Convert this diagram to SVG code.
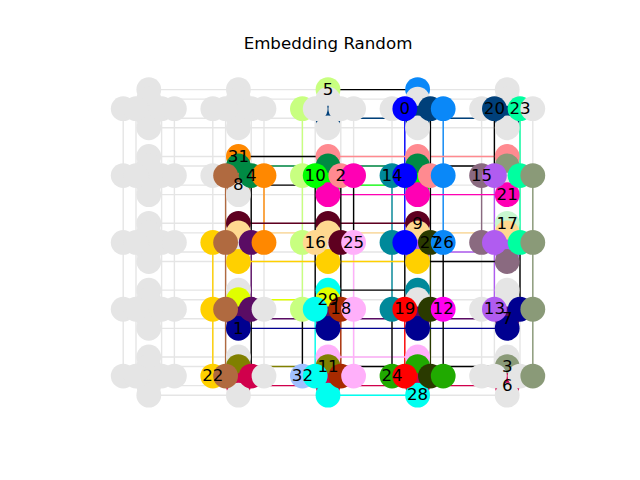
<svg xmlns="http://www.w3.org/2000/svg" width="640" height="480" viewBox="0 0 640 480">
<style>
text{font-family:"DejaVu Sans","Liberation Sans",sans-serif;fill:#000;font-size:16.67px;text-anchor:middle}
line{stroke-width:1.4;fill:none}
circle{stroke-width:0}
.e{stroke:#e5e5e5}
.k{stroke:#000}
.g{fill:#e5e5e5}
.LG{fill:#c8ff80;stroke:#c8ff80}
.OR{fill:#ff8800;stroke:#ff8800}
.GR{fill:#008a44;stroke:#008a44}
.BR{fill:#b06a40;stroke:#b06a40}
.BG{fill:#00ff00;stroke:#00ff00}
.SA{fill:#ff8a90;stroke:#ff8a90}
.MG{fill:#ff00b4;stroke:#ff00b4}
.TE{fill:#00899a;stroke:#00899a}
.BL{fill:#0000ff;stroke:#0000ff}
.DB{fill:#0a88f8;stroke:#0a88f8}
.NV{fill:#00407a;stroke:#00407a}
.SG{fill:#00ffa0;stroke:#00ffa0}
.VI{fill:#b05cf0;stroke:#b05cf0}
.MV{fill:#8a6a80;stroke:#8a6a80}
.SE{fill:#8a9a78;stroke:#8a9a78}
.PM{fill:#c8f8d0;stroke:#c8f8d0}
.LO{fill:#ffd890;stroke:#ffd890}
.MR{fill:#5e0020;stroke:#5e0020}
.YE{fill:#ffd000;stroke:#ffd000}
.PU{fill:#5a0c64;stroke:#5a0c64}
.LP{fill:#ffb0fa;stroke:#ffb0fa}
.DO{fill:#2a3a00;stroke:#2a3a00}
.CH{fill:#e0ff00;stroke:#e0ff00}
.N1{fill:#000090;stroke:#000090}
.CY{fill:#00fff0;stroke:#00fff0}
.RU{fill:#a82a00;stroke:#a82a00}
.RD{fill:#ff0000;stroke:#ff0000}
.M2{fill:#ff00f0;stroke:#ff00f0}
.OL{fill:#808000;stroke:#808000}
.CR{fill:#d0004c;stroke:#d0004c}
.LB{fill:#a0c0ff;stroke:#a0c0ff}
.G2{fill:#20aa00;stroke:#20aa00}
</style>
<rect width="640" height="480" fill="#ffffff"/>
<text x="328" y="49.3">Embedding Random</text>
<g id="connectors">
<g id="unused-edges">
<line class="e" x1="123.2" y1="108.7" x2="123.2" y2="376.1"/>
<line class="e" x1="136" y1="108.7" x2="136" y2="376.1"/>
<line class="e" x1="161.6" y1="108.7" x2="161.6" y2="376.1"/>
<line class="e" x1="174.4" y1="108.7" x2="174.4" y2="376.1"/>
<line class="e" x1="212.8" y1="108.7" x2="212.8" y2="376.1"/>
<line class="e" x1="225.6" y1="108.7" x2="225.6" y2="376.1"/>
<line class="e" x1="251.2" y1="108.7" x2="251.2" y2="376.1"/>
<line class="e" x1="264" y1="108.7" x2="264" y2="376.1"/>
<line class="e" x1="302.4" y1="108.7" x2="302.4" y2="376.1"/>
<line class="e" x1="315.2" y1="108.7" x2="315.2" y2="376.1"/>
<line class="e" x1="340.8" y1="108.7" x2="340.8" y2="376.1"/>
<line class="e" x1="353.6" y1="108.7" x2="353.6" y2="376.1"/>
<line class="e" x1="392" y1="108.7" x2="392" y2="376.1"/>
<line class="e" x1="404.8" y1="108.7" x2="404.8" y2="376.1"/>
<line class="e" x1="430.4" y1="108.7" x2="430.4" y2="376.1"/>
<line class="e" x1="443.2" y1="108.7" x2="443.2" y2="376.1"/>
<line class="e" x1="481.6" y1="108.7" x2="481.6" y2="376.1"/>
<line class="e" x1="494.4" y1="108.7" x2="494.4" y2="376.1"/>
<line class="e" x1="520" y1="108.7" x2="520" y2="376.1"/>
<line class="e" x1="532.8" y1="108.7" x2="532.8" y2="376.1"/>
<line class="e" x1="148.8" y1="89.6" x2="507.2" y2="89.6"/>
<line class="e" x1="148.8" y1="99.15" x2="507.2" y2="99.15"/>
<line class="e" x1="148.8" y1="118.25" x2="507.2" y2="118.25"/>
<line class="e" x1="148.8" y1="127.8" x2="507.2" y2="127.8"/>
<line class="e" x1="148.8" y1="156.45" x2="507.2" y2="156.45"/>
<line class="e" x1="148.8" y1="166" x2="507.2" y2="166"/>
<line class="e" x1="148.8" y1="185.1" x2="507.2" y2="185.1"/>
<line class="e" x1="148.8" y1="194.65" x2="507.2" y2="194.65"/>
<line class="e" x1="148.8" y1="223.3" x2="507.2" y2="223.3"/>
<line class="e" x1="148.8" y1="232.85" x2="507.2" y2="232.85"/>
<line class="e" x1="148.8" y1="251.95" x2="507.2" y2="251.95"/>
<line class="e" x1="148.8" y1="261.5" x2="507.2" y2="261.5"/>
<line class="e" x1="148.8" y1="290.15" x2="507.2" y2="290.15"/>
<line class="e" x1="148.8" y1="299.7" x2="507.2" y2="299.7"/>
<line class="e" x1="148.8" y1="318.8" x2="507.2" y2="318.8"/>
<line class="e" x1="148.8" y1="328.35" x2="507.2" y2="328.35"/>
<line class="e" x1="148.8" y1="357" x2="507.2" y2="357"/>
<line class="e" x1="148.8" y1="366.55" x2="507.2" y2="366.55"/>
<line class="e" x1="148.8" y1="385.65" x2="507.2" y2="385.65"/>
<line class="e" x1="148.8" y1="395.2" x2="507.2" y2="395.2"/>
</g>
<g id="chain-edges">
<line class="YE" x1="212.8" y1="242.4" x2="212.8" y2="376.1"/>
<line class="BR" x1="225.6" y1="175.55" x2="225.6" y2="376.1"/>
<line class="PU" x1="251.2" y1="242.4" x2="251.2" y2="309.25"/>
<line class="OR" x1="264" y1="175.55" x2="264" y2="242.4"/>
<line class="LG" x1="302.4" y1="108.7" x2="302.4" y2="309.25"/>
<line class="CY" x1="315.2" y1="309.25" x2="315.2" y2="376.1"/>
<line class="RU" x1="340.8" y1="309.25" x2="340.8" y2="376.1"/>
<line class="LP" x1="353.6" y1="242.4" x2="353.6" y2="376.1"/>
<line class="TE" x1="392" y1="175.55" x2="392" y2="309.25"/>
<line class="BL" x1="404.8" y1="108.7" x2="404.8" y2="242.4"/>
<line class="RD" x1="404.8" y1="309.25" x2="404.8" y2="376.1"/>
<line class="DO" x1="430.4" y1="242.4" x2="430.4" y2="376.1"/>
<line class="DB" x1="443.2" y1="108.7" x2="443.2" y2="242.4"/>
<line class="MV" x1="481.6" y1="175.55" x2="481.6" y2="242.4"/>
<line class="VI" x1="494.4" y1="175.55" x2="494.4" y2="309.25"/>
<line class="SG" x1="520" y1="108.7" x2="520" y2="242.4"/>
<line class="SE" x1="532.8" y1="175.55" x2="532.8" y2="376.1"/>
<line class="NV" x1="328" y1="118.25" x2="507.2" y2="118.25"/>
<line class="SA" x1="328" y1="156.45" x2="507.2" y2="156.45"/>
<line class="GR" x1="238.4" y1="166" x2="417.6" y2="166"/>
<line class="BG" x1="328" y1="185.1" x2="417.6" y2="185.1"/>
<line class="MG" x1="328" y1="194.65" x2="507.2" y2="194.65"/>
<line class="MR" x1="238.4" y1="223.3" x2="417.6" y2="223.3"/>
<line class="LO" x1="238.4" y1="232.85" x2="507.2" y2="232.85"/>
<line class="VI" x1="417.6" y1="251.95" x2="507.2" y2="251.95"/>
<line class="YE" x1="238.4" y1="261.5" x2="417.6" y2="261.5"/>
<line class="CH" x1="238.4" y1="299.7" x2="328" y2="299.7"/>
<line class="PU" x1="238.4" y1="318.8" x2="507.2" y2="318.8"/>
<line class="N1" x1="238.4" y1="328.35" x2="507.2" y2="328.35"/>
<line class="LP" x1="328" y1="357" x2="417.6" y2="357"/>
<line class="OL" x1="238.4" y1="366.55" x2="328" y2="366.55"/>
<line class="CR" x1="238.4" y1="385.65" x2="507.2" y2="385.65"/>
<line class="CY" x1="328" y1="395.2" x2="417.6" y2="395.2"/>
</g>
<g id="interaction-edges">
<line class="k" x1="251.2" y1="175.55" x2="251.2" y2="242.4"/>
<line class="k" x1="251.2" y1="309.25" x2="251.2" y2="376.1"/>
<line class="k" x1="302.4" y1="309.25" x2="302.4" y2="376.1"/>
<line class="k" x1="315.2" y1="175.55" x2="315.2" y2="309.25"/>
<line class="k" x1="340.8" y1="175.55" x2="340.8" y2="309.25"/>
<line class="k" x1="353.6" y1="175.55" x2="353.6" y2="242.4"/>
<line class="k" x1="392" y1="309.25" x2="392" y2="376.1"/>
<line class="k" x1="404.8" y1="242.4" x2="404.8" y2="309.25"/>
<line class="k" x1="430.4" y1="108.7" x2="430.4" y2="242.4"/>
<line class="k" x1="443.2" y1="242.4" x2="443.2" y2="376.1"/>
<line class="k" x1="494.4" y1="108.7" x2="494.4" y2="175.55"/>
<line class="k" x1="520" y1="242.4" x2="520" y2="309.25"/>
<line class="k" x1="328" y1="89.6" x2="417.6" y2="89.6"/>
<line class="k" x1="238.4" y1="156.45" x2="328" y2="156.45"/>
<line class="k" x1="417.6" y1="166" x2="507.2" y2="166"/>
<line class="k" x1="238.4" y1="185.1" x2="328" y2="185.1"/>
<line class="k" x1="417.6" y1="261.5" x2="507.2" y2="261.5"/>
<line class="k" x1="328" y1="290.15" x2="417.6" y2="290.15"/>
<line class="k" x1="328" y1="366.55" x2="507.2" y2="366.55"/>
</g>
</g>
<g id="nodes">
<g id="cell-0-0"><circle class="g" cx="123.2" cy="108.7" r="12.4"/><circle class="g" cx="148.8" cy="89.6" r="12.4"/><circle class="g" cx="148.8" cy="99.15" r="12.4"/><circle class="g" cx="148.8" cy="118.25" r="12.4"/><circle class="g" cx="148.8" cy="127.8" r="12.4"/><circle class="g" cx="136" cy="108.7" r="12.4"/><circle class="g" cx="161.6" cy="108.7" r="12.4"/><circle class="g" cx="174.4" cy="108.7" r="12.4"/></g>
<g id="cell-1-0"><circle class="g" cx="212.8" cy="108.7" r="12.4"/><circle class="g" cx="238.4" cy="89.6" r="12.4"/><circle class="g" cx="238.4" cy="99.15" r="12.4"/><circle class="g" cx="238.4" cy="118.25" r="12.4"/><circle class="g" cx="238.4" cy="127.8" r="12.4"/><circle class="g" cx="225.6" cy="108.7" r="12.4"/><circle class="g" cx="251.2" cy="108.7" r="12.4"/><circle class="g" cx="264" cy="108.7" r="12.4"/></g>
<g id="cell-2-0"><circle class="LG" cx="302.4" cy="108.7" r="12.4"/><circle class="LG" cx="328" cy="89.6" r="12.4"/><circle class="g" cx="328" cy="99.15" r="12.4"/><circle class="NV" cx="328" cy="118.25" r="12.4"/><circle class="g" cx="328" cy="127.8" r="12.4"/><circle class="g" cx="315.2" cy="108.7" r="12.4"/><circle class="g" cx="340.8" cy="108.7" r="12.4"/><circle class="g" cx="353.6" cy="108.7" r="12.4"/></g>
<g id="cell-3-0"><circle class="g" cx="392" cy="108.7" r="12.4"/><circle class="DB" cx="417.6" cy="89.6" r="12.4"/><circle class="g" cx="417.6" cy="99.15" r="12.4"/><circle class="NV" cx="417.6" cy="118.25" r="12.4"/><circle class="g" cx="417.6" cy="127.8" r="12.4"/><circle class="BL" cx="404.8" cy="108.7" r="12.4"/><circle class="NV" cx="430.4" cy="108.7" r="12.4"/><circle class="DB" cx="443.2" cy="108.7" r="12.4"/></g>
<g id="cell-4-0"><circle class="g" cx="481.6" cy="108.7" r="12.4"/><circle class="g" cx="507.2" cy="89.6" r="12.4"/><circle class="g" cx="507.2" cy="99.15" r="12.4"/><circle class="NV" cx="507.2" cy="118.25" r="12.4"/><circle class="g" cx="507.2" cy="127.8" r="12.4"/><circle class="NV" cx="494.4" cy="108.7" r="12.4"/><circle class="SG" cx="520" cy="108.7" r="12.4"/><circle class="g" cx="532.8" cy="108.7" r="12.4"/></g>
<g id="cell-0-1"><circle class="g" cx="123.2" cy="175.55" r="12.4"/><circle class="g" cx="148.8" cy="156.45" r="12.4"/><circle class="g" cx="148.8" cy="166" r="12.4"/><circle class="g" cx="148.8" cy="185.1" r="12.4"/><circle class="g" cx="148.8" cy="194.65" r="12.4"/><circle class="g" cx="136" cy="175.55" r="12.4"/><circle class="g" cx="161.6" cy="175.55" r="12.4"/><circle class="g" cx="174.4" cy="175.55" r="12.4"/></g>
<g id="cell-1-1"><circle class="g" cx="212.8" cy="175.55" r="12.4"/><circle class="OR" cx="238.4" cy="156.45" r="12.4"/><circle class="GR" cx="238.4" cy="166" r="12.4"/><circle class="BR" cx="238.4" cy="185.1" r="12.4"/><circle class="g" cx="238.4" cy="194.65" r="12.4"/><circle class="BR" cx="225.6" cy="175.55" r="12.4"/><circle class="GR" cx="251.2" cy="175.55" r="12.4"/><circle class="OR" cx="264" cy="175.55" r="12.4"/></g>
<g id="cell-2-1"><circle class="LG" cx="302.4" cy="175.55" r="12.4"/><circle class="SA" cx="328" cy="156.45" r="12.4"/><circle class="GR" cx="328" cy="166" r="12.4"/><circle class="BG" cx="328" cy="185.1" r="12.4"/><circle class="MG" cx="328" cy="194.65" r="12.4"/><circle class="BG" cx="315.2" cy="175.55" r="12.4"/><circle class="SA" cx="340.8" cy="175.55" r="12.4"/><circle class="MG" cx="353.6" cy="175.55" r="12.4"/></g>
<g id="cell-3-1"><circle class="TE" cx="392" cy="175.55" r="12.4"/><circle class="SA" cx="417.6" cy="156.45" r="12.4"/><circle class="GR" cx="417.6" cy="166" r="12.4"/><circle class="BG" cx="417.6" cy="185.1" r="12.4"/><circle class="MG" cx="417.6" cy="194.65" r="12.4"/><circle class="BL" cx="404.8" cy="175.55" r="12.4"/><circle class="SA" cx="430.4" cy="175.55" r="12.4"/><circle class="DB" cx="443.2" cy="175.55" r="12.4"/></g>
<g id="cell-4-1"><circle class="MV" cx="481.6" cy="175.55" r="12.4"/><circle class="SA" cx="507.2" cy="156.45" r="12.4"/><circle class="SE" cx="507.2" cy="166" r="12.4"/><circle class="g" cx="507.2" cy="185.1" r="12.4"/><circle class="MG" cx="507.2" cy="194.65" r="12.4"/><circle class="VI" cx="494.4" cy="175.55" r="12.4"/><circle class="SG" cx="520" cy="175.55" r="12.4"/><circle class="SE" cx="532.8" cy="175.55" r="12.4"/></g>
<g id="cell-0-2"><circle class="g" cx="123.2" cy="242.4" r="12.4"/><circle class="g" cx="148.8" cy="223.3" r="12.4"/><circle class="g" cx="148.8" cy="232.85" r="12.4"/><circle class="g" cx="148.8" cy="251.95" r="12.4"/><circle class="g" cx="148.8" cy="261.5" r="12.4"/><circle class="g" cx="136" cy="242.4" r="12.4"/><circle class="g" cx="161.6" cy="242.4" r="12.4"/><circle class="g" cx="174.4" cy="242.4" r="12.4"/></g>
<g id="cell-1-2"><circle class="YE" cx="212.8" cy="242.4" r="12.4"/><circle class="MR" cx="238.4" cy="223.3" r="12.4"/><circle class="LO" cx="238.4" cy="232.85" r="12.4"/><circle class="g" cx="238.4" cy="251.95" r="12.4"/><circle class="YE" cx="238.4" cy="261.5" r="12.4"/><circle class="BR" cx="225.6" cy="242.4" r="12.4"/><circle class="PU" cx="251.2" cy="242.4" r="12.4"/><circle class="OR" cx="264" cy="242.4" r="12.4"/></g>
<g id="cell-2-2"><circle class="LG" cx="302.4" cy="242.4" r="12.4"/><circle class="MR" cx="328" cy="223.3" r="12.4"/><circle class="LO" cx="328" cy="232.85" r="12.4"/><circle class="g" cx="328" cy="251.95" r="12.4"/><circle class="YE" cx="328" cy="261.5" r="12.4"/><circle class="LO" cx="315.2" cy="242.4" r="12.4"/><circle class="MR" cx="340.8" cy="242.4" r="12.4"/><circle class="LP" cx="353.6" cy="242.4" r="12.4"/></g>
<g id="cell-3-2"><circle class="TE" cx="392" cy="242.4" r="12.4"/><circle class="MR" cx="417.6" cy="223.3" r="12.4"/><circle class="LO" cx="417.6" cy="232.85" r="12.4"/><circle class="VI" cx="417.6" cy="251.95" r="12.4"/><circle class="YE" cx="417.6" cy="261.5" r="12.4"/><circle class="BL" cx="404.8" cy="242.4" r="12.4"/><circle class="DO" cx="430.4" cy="242.4" r="12.4"/><circle class="DB" cx="443.2" cy="242.4" r="12.4"/></g>
<g id="cell-4-2"><circle class="MV" cx="481.6" cy="242.4" r="12.4"/><circle class="PM" cx="507.2" cy="223.3" r="12.4"/><circle class="LO" cx="507.2" cy="232.85" r="12.4"/><circle class="VI" cx="507.2" cy="251.95" r="12.4"/><circle class="MV" cx="507.2" cy="261.5" r="12.4"/><circle class="VI" cx="494.4" cy="242.4" r="12.4"/><circle class="SG" cx="520" cy="242.4" r="12.4"/><circle class="SE" cx="532.8" cy="242.4" r="12.4"/></g>
<g id="cell-0-3"><circle class="g" cx="123.2" cy="309.25" r="12.4"/><circle class="g" cx="148.8" cy="290.15" r="12.4"/><circle class="g" cx="148.8" cy="299.7" r="12.4"/><circle class="g" cx="148.8" cy="318.8" r="12.4"/><circle class="g" cx="148.8" cy="328.35" r="12.4"/><circle class="g" cx="136" cy="309.25" r="12.4"/><circle class="g" cx="161.6" cy="309.25" r="12.4"/><circle class="g" cx="174.4" cy="309.25" r="12.4"/></g>
<g id="cell-1-3"><circle class="YE" cx="212.8" cy="309.25" r="12.4"/><circle class="g" cx="238.4" cy="290.15" r="12.4"/><circle class="CH" cx="238.4" cy="299.7" r="12.4"/><circle class="PU" cx="238.4" cy="318.8" r="12.4"/><circle class="N1" cx="238.4" cy="328.35" r="12.4"/><circle class="BR" cx="225.6" cy="309.25" r="12.4"/><circle class="PU" cx="251.2" cy="309.25" r="12.4"/><circle class="g" cx="264" cy="309.25" r="12.4"/></g>
<g id="cell-2-3"><circle class="LG" cx="302.4" cy="309.25" r="12.4"/><circle class="CY" cx="328" cy="290.15" r="12.4"/><circle class="CH" cx="328" cy="299.7" r="12.4"/><circle class="PU" cx="328" cy="318.8" r="12.4"/><circle class="N1" cx="328" cy="328.35" r="12.4"/><circle class="CY" cx="315.2" cy="309.25" r="12.4"/><circle class="RU" cx="340.8" cy="309.25" r="12.4"/><circle class="LP" cx="353.6" cy="309.25" r="12.4"/></g>
<g id="cell-3-3"><circle class="TE" cx="392" cy="309.25" r="12.4"/><circle class="TE" cx="417.6" cy="290.15" r="12.4"/><circle class="g" cx="417.6" cy="299.7" r="12.4"/><circle class="PU" cx="417.6" cy="318.8" r="12.4"/><circle class="N1" cx="417.6" cy="328.35" r="12.4"/><circle class="RD" cx="404.8" cy="309.25" r="12.4"/><circle class="DO" cx="430.4" cy="309.25" r="12.4"/><circle class="M2" cx="443.2" cy="309.25" r="12.4"/></g>
<g id="cell-4-3"><circle class="g" cx="481.6" cy="309.25" r="12.4"/><circle class="g" cx="507.2" cy="290.15" r="12.4"/><circle class="g" cx="507.2" cy="299.7" r="12.4"/><circle class="PU" cx="507.2" cy="318.8" r="12.4"/><circle class="N1" cx="507.2" cy="328.35" r="12.4"/><circle class="VI" cx="494.4" cy="309.25" r="12.4"/><circle class="N1" cx="520" cy="309.25" r="12.4"/><circle class="SE" cx="532.8" cy="309.25" r="12.4"/></g>
<g id="cell-0-4"><circle class="g" cx="123.2" cy="376.1" r="12.4"/><circle class="g" cx="148.8" cy="357" r="12.4"/><circle class="g" cx="148.8" cy="366.55" r="12.4"/><circle class="g" cx="148.8" cy="385.65" r="12.4"/><circle class="g" cx="148.8" cy="395.2" r="12.4"/><circle class="g" cx="136" cy="376.1" r="12.4"/><circle class="g" cx="161.6" cy="376.1" r="12.4"/><circle class="g" cx="174.4" cy="376.1" r="12.4"/></g>
<g id="cell-1-4"><circle class="YE" cx="212.8" cy="376.1" r="12.4"/><circle class="g" cx="238.4" cy="357" r="12.4"/><circle class="OL" cx="238.4" cy="366.55" r="12.4"/><circle class="CR" cx="238.4" cy="385.65" r="12.4"/><circle class="g" cx="238.4" cy="395.2" r="12.4"/><circle class="BR" cx="225.6" cy="376.1" r="12.4"/><circle class="CR" cx="251.2" cy="376.1" r="12.4"/><circle class="g" cx="264" cy="376.1" r="12.4"/></g>
<g id="cell-2-4"><circle class="LB" cx="302.4" cy="376.1" r="12.4"/><circle class="LP" cx="328" cy="357" r="12.4"/><circle class="OL" cx="328" cy="366.55" r="12.4"/><circle class="CR" cx="328" cy="385.65" r="12.4"/><circle class="CY" cx="328" cy="395.2" r="12.4"/><circle class="CY" cx="315.2" cy="376.1" r="12.4"/><circle class="RU" cx="340.8" cy="376.1" r="12.4"/><circle class="LP" cx="353.6" cy="376.1" r="12.4"/></g>
<g id="cell-3-4"><circle class="G2" cx="392" cy="376.1" r="12.4"/><circle class="LP" cx="417.6" cy="357" r="12.4"/><circle class="G2" cx="417.6" cy="366.55" r="12.4"/><circle class="CR" cx="417.6" cy="385.65" r="12.4"/><circle class="CY" cx="417.6" cy="395.2" r="12.4"/><circle class="RD" cx="404.8" cy="376.1" r="12.4"/><circle class="DO" cx="430.4" cy="376.1" r="12.4"/><circle class="G2" cx="443.2" cy="376.1" r="12.4"/></g>
<g id="cell-4-4"><circle class="g" cx="481.6" cy="376.1" r="12.4"/><circle class="g" cx="507.2" cy="357" r="12.4"/><circle class="SE" cx="507.2" cy="366.55" r="12.4"/><circle class="CR" cx="507.2" cy="385.65" r="12.4"/><circle class="g" cx="507.2" cy="395.2" r="12.4"/><circle class="g" cx="494.4" cy="376.1" r="12.4"/><circle class="g" cx="520" cy="376.1" r="12.4"/><circle class="SE" cx="532.8" cy="376.1" r="12.4"/></g>
</g>
<g id="labels">
<text x="328" y="94.8">5</text>
<text x="404.8" y="113.9">0</text>
<text x="494.4" y="113.9">20</text>
<text x="520" y="113.9">23</text>
<text x="238.4" y="161.65">31</text>
<text x="251.2" y="180.75">4</text>
<text x="238.4" y="190.3">8</text>
<text x="315.2" y="180.75">10</text>
<text x="340.8" y="180.75">2</text>
<text x="392" y="180.75">14</text>
<text x="481.6" y="180.75">15</text>
<text x="507.2" y="199.85">21</text>
<text x="417.6" y="228.5">9</text>
<text x="507.2" y="228.5">17</text>
<text x="315.2" y="247.6">16</text>
<text x="353.6" y="247.6">25</text>
<text x="430.4" y="247.6">27</text>
<text x="443.2" y="247.6">26</text>
<text x="328" y="304.9">29</text>
<text x="340.8" y="314.45">18</text>
<text x="404.8" y="314.45">19</text>
<text x="443.2" y="314.45">12</text>
<text x="494.4" y="314.45">13</text>
<text x="507.2" y="324">7</text>
<text x="238.4" y="333.55">1</text>
<text x="328" y="371.75">11</text>
<text x="507.2" y="371.75">3</text>
<text x="507.2" y="390.85">6</text>
<text x="212.8" y="381.3">22</text>
<text x="302.4" y="381.3">32</text>
<text x="392" y="381.3">24</text>
<text x="417.6" y="400.4">28</text>
</g>
</svg>
